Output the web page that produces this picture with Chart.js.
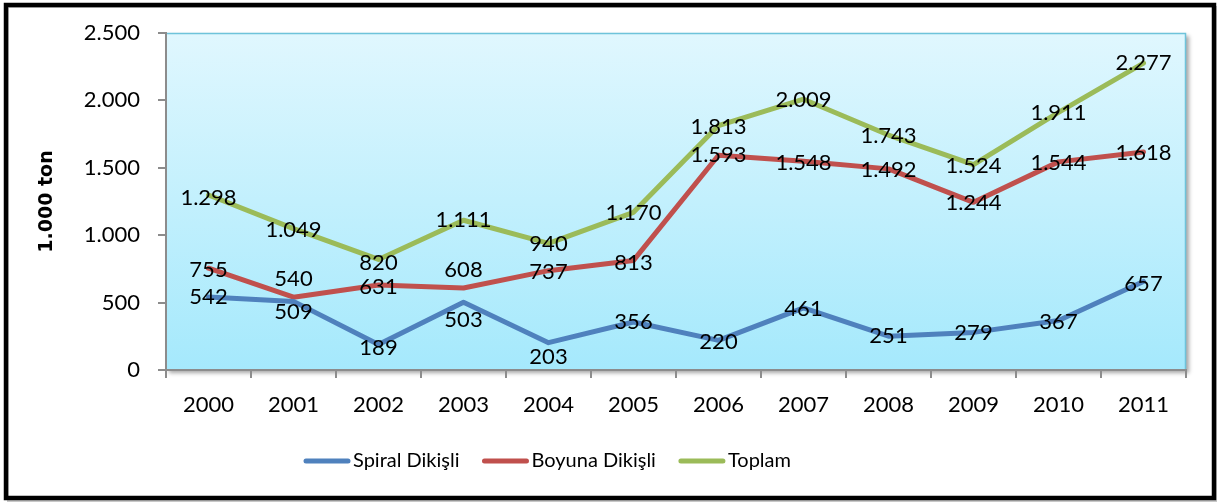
<!DOCTYPE html>
<html>
<head>
<meta charset="utf-8">
<script src="https://cdn.jsdelivr.net/npm/chart.js@4"></script>
<style>
  html, body { margin: 0; padding: 0; background: #fff; }
  #wrap { width: 1217px; height: 502px; }
</style>
</head>
<body>
<div id="wrap"><canvas id="chart" width="1217" height="502"></canvas></div>
<script>
// values
const years = ['2000', '2001', '2002', '2003', '2004', '2005', '2006', '2007', '2008', '2009', '2010', '2011'];
const spiral = [542, 509, 189, 503, 203, 356, 220, 461, 251, 279, 367, 657];
const boyuna = [755, 540, 631, 608, 737, 813, 1593, 1548, 1492, 1244, 1544, 1618];
const toplam = [1298, 1049, 820, 1111, 940, 1170, 1813, 2009, 1743, 1524, 1911, 2277];
const yTicks = [0, 500, 1000, 1500, 2000, 2500];

// small vertical nudges so labels sit where Excel put them
const labelNudge = {
  'Spiral Dikişli': [0, 11, 3, 18, 14, 0, 2, 1, 0, 1, 1, 2],
  'Boyuna Dikişli': [2, -18, 2, -18, 1, 2, 0, 2, 1, 1, 1, 1],
  'Toplam': [3, 1, 3, 0, 1, 1, 1, 1, 1, 1, 1, 0]
};

const FONT = 'Lato, "Open Sans", sans-serif';

// 1.298 style thousands separator
function fmt(v) {
  return String(v).replace(/\B(?=(\d{3})+(?!\d))/g, '.');
}

const framePlugin = {
  id: 'frame',
  beforeDraw(chart) {
    const ctx = chart.ctx;
    const a = chart.chartArea;
    ctx.save();
    ctx.fillStyle = '#fff';
    ctx.fillRect(0, 0, chart.width, chart.height);

    // outer box
    ctx.strokeStyle = '#c8c8c8';
    ctx.lineWidth = 2;
    ctx.strokeRect(8, 7, 1208, 494);
    ctx.strokeStyle = '#000';
    ctx.lineWidth = 4.5;
    ctx.strokeRect(6, 5, 1208, 493);

    // plot area with soft shadow
    ctx.shadowColor = 'rgba(0,0,0,0.35)';
    ctx.shadowBlur = 4;
    ctx.shadowOffsetX = 3;
    ctx.shadowOffsetY = 3;
    ctx.fillStyle = '#b0e8f8';
    ctx.fillRect(a.left, a.top, a.right - a.left, a.bottom - a.top);
    ctx.shadowColor = 'transparent';

    const g = ctx.createLinearGradient(0, a.top, 0, a.bottom);
    g.addColorStop(0, '#e0f7fe');
    g.addColorStop(1, '#a5e9fc');
    ctx.fillStyle = g;
    ctx.fillRect(a.left, a.top, a.right - a.left, a.bottom - a.top);

    ctx.strokeStyle = '#6ec3da';
    ctx.lineWidth = 1.5;
    ctx.beginPath();
    ctx.moveTo(a.left, a.top + 0.5);
    ctx.lineTo(a.right - 0.5, a.top + 0.5);
    ctx.lineTo(a.right - 0.5, a.bottom);
    ctx.stroke();
    ctx.restore();
  }
};

const labelPlugin = {
  id: 'pointLabels',
  afterDatasetsDraw(chart) {
    const ctx = chart.ctx;
    ctx.save();
    ctx.font = '22px ' + FONT;
    ctx.fillStyle = '#000';
    ctx.textAlign = 'center';
    ctx.textBaseline = 'middle';
    chart.data.datasets.forEach((ds, i) => {
      const meta = chart.getDatasetMeta(i);
      const nudge = labelNudge[ds.label] || [];
      meta.data.forEach((pt, j) => {
        ctx.fillText(fmt(ds.data[j]), pt.x, pt.y + (nudge[j] || 0));
      });
    });
    ctx.restore();
  }
};

const legendPlugin = {
  id: 'lineLegend',
  afterDraw(chart) {
    const ctx = chart.ctx;
    let x = 306;
    const y = 461;
    ctx.save();
    ctx.font = '20px ' + FONT;
    ctx.textBaseline = 'middle';
    ctx.textAlign = 'left';
    chart.data.datasets.forEach(ds => {
      ctx.strokeStyle = ds.borderColor;
      ctx.lineWidth = 5;
      ctx.lineCap = 'round';
      ctx.beginPath();
      ctx.moveTo(x, y);
      ctx.lineTo(x + 42, y);
      ctx.stroke();
      ctx.fillStyle = '#000';
      ctx.fillText(ds.label, x + 47, y);
      x += 47 + ctx.measureText(ds.label).width + 25;
    });
    ctx.restore();
  }
};

const ctx = document.getElementById('chart').getContext('2d');

const chart = new Chart(ctx, {
  type: 'line',
  data: {
    labels: years,
    datasets: [
      { label: 'Spiral Dikişli', data: spiral, borderColor: '#4f81bd' },
      { label: 'Boyuna Dikişli', data: boyuna, borderColor: '#c0504d' },
      { label: 'Toplam', data: toplam, borderColor: '#9bbb59' }
    ]
  },
  options: {
    responsive: false,
    animation: false,
    events: [],
    datasets: {
      line: {
        borderWidth: 5,
        pointRadius: 0,
        tension: 0,
        fill: false,
        borderCapStyle: 'round',
        borderJoinStyle: 'round'
      }
    },
    layout: {
      padding: { top: 33, right: 31, bottom: 72, left: 0 }
    },
    plugins: {
      legend: { display: false },
      tooltip: { enabled: false }
    },
    scales: {
      x: {
        offset: true,
        afterFit: s => { s.height = 60; },
        grid: {
          offset: true,
          drawOnChartArea: false,
          drawTicks: true,
          tickLength: 8,
          color: '#8c8c8c',
          lineWidth: 2
        },
        border: { display: true, color: '#8c8c8c', width: 2 },
        ticks: {
          color: '#000',
          padding: 14,
          font: { family: FONT, size: 22 },
          maxRotation: 0
        }
      },
      y: {
        min: 0,
        max: 2500,
        afterFit: s => { s.width = 166; },
        afterBuildTicks: s => { s.ticks = yTicks.map(v => ({ value: v })); },
        grid: {
          drawOnChartArea: false,
          drawTicks: true,
          tickLength: 8,
          color: '#8c8c8c',
          lineWidth: 2
        },
        border: { display: true, color: '#8c8c8c', width: 2 },
        ticks: {
          color: '#000',
          padding: 18,
          font: { family: FONT, size: 22 },
          callback: v => fmt(v)
        },
        title: {
          display: true,
          text: '1.000 ton',
          color: '#000',
          padding: { top: 36, bottom: 0 },
          font: { family: '"DejaVu Sans"', size: 19, weight: 'bold' }
        }
      }
    }
  },
  plugins: [framePlugin, labelPlugin, legendPlugin]
});
</script>
</body>
</html>
